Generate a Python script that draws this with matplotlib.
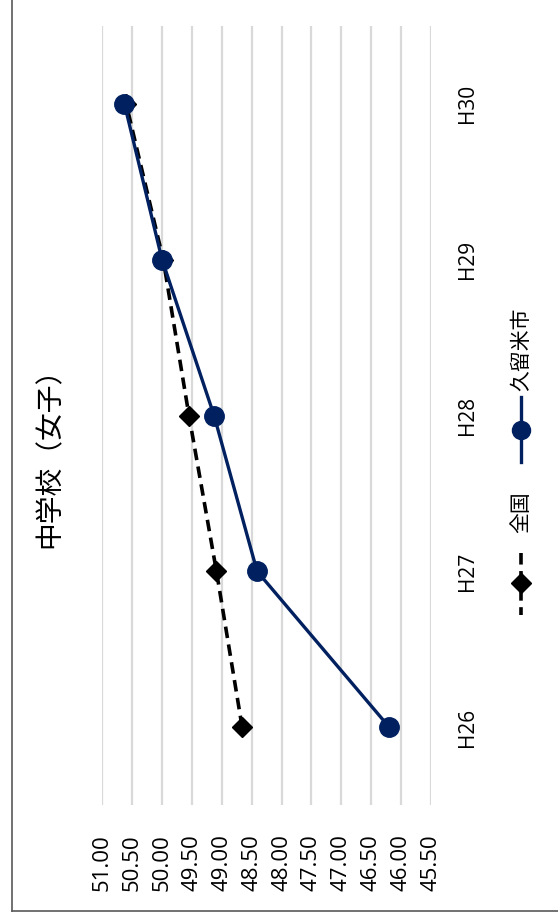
import matplotlib
matplotlib.use("Agg")
import matplotlib.pyplot as plt
import numpy as np

plt.rcParams["font.family"] = ["Noto Sans CJK JP", "DejaVu Sans"]

# 体力合計点の推移（中学校女子）
years = ["H26", "H27", "H28", "H29", "H30"]
national = [48.66, 49.09, 49.55, 49.98, 50.60]   # 全国
kurume = [46.20, 48.41, 49.13, 50.00, 50.63]     # 久留米市
value_ticks = [45.5, 46.0, 46.5, 47.0, 47.5, 48.0, 48.5, 49.0, 49.5, 50.0, 50.5, 51.0]
series_names = ["全国", "久留米市"]
title = "中学校（女子）"

NAVY = "#002060"
W, H = 558, 915
NUM_FONT = ["Open Sans", "DejaVu Sans"]

fig = plt.figure(figsize=(W / 100, H / 100), dpi=100)

# chart drawn turned on its side: values run along x (high on the left),
# years run up the page
ax = fig.add_axes([102.3 / W, 110 / H, 328.7 / W, 779 / H])
pos = np.arange(len(years))
ax.plot(national, pos, color="black", lw=2.6, dashes=(3.2, 1.8),
        marker="D", markersize=10.5, markerfacecolor="black",
        markeredgecolor="black", zorder=3)
ax.plot(kurume, pos, color=NAVY, lw=2.4, marker="o", markersize=14,
        markerfacecolor=NAVY, markeredgecolor=NAVY, zorder=4)

ax.set_xlim(51.0, 45.5)
ax.set_ylim(-0.5, len(years) - 0.5)
ax.set_xticks(value_ticks)
ax.set_xticklabels([f"{v:.2f}" for v in value_ticks], rotation=90,
                   fontsize=16, family=NUM_FONT)
ax.set_yticks(pos)
ax.set_yticklabels(years, rotation=90, va="center", fontsize=15, family=NUM_FONT)
ax.yaxis.tick_right()
ax.tick_params(axis="x", length=0, pad=21)
ax.tick_params(axis="y", length=0, pad=19)
ax.grid(axis="x", color="#d9d9d9", lw=1.6)
ax.set_axisbelow(True)
for s in ax.spines.values():
    s.set_visible(False)

# overlay in pixel units for title, legend and chart border
ov = fig.add_axes([0, 0, 1, 1])
ov.set_xlim(0, W)
ov.set_ylim(H, 0)
ov.axis("off")
ov.patch.set_visible(False)

ov.text(50, 451, title, rotation=90, ha="center", va="center", fontsize=20)

ov.plot([521, 521], [553, 615], color="black", lw=2.6, dashes=(3.2, 1.8))
ov.plot([521], [583], marker="D", markersize=10.5, color="black")
ov.text(521, 512, series_names[0], rotation=90, ha="center", va="center", fontsize=15)
ov.plot([521, 521], [397, 462], color=NAVY, lw=2.4)
ov.plot([521], [430], marker="o", markersize=13, color=NAVY)
ov.text(521, 349, series_names[1], rotation=90, ha="center", va="center", fontsize=15)

ov.plot([12, 12], [0, 911], color="#595959", lw=1.2)
ov.plot([12, W], [911, 911], color="#595959", lw=1.2)

fig.savefig("out.png", dpi=100)
